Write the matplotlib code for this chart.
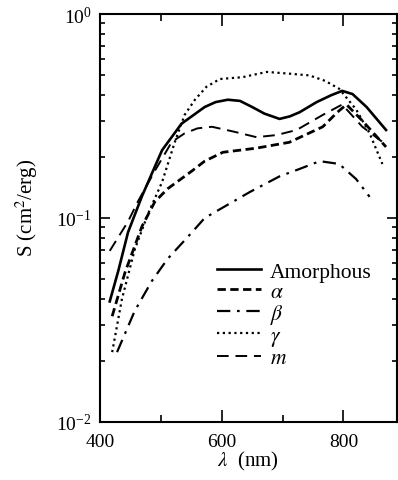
import matplotlib
matplotlib.use("Agg")
import matplotlib.pyplot as plt
from matplotlib.ticker import FixedLocator, LogLocator, NullFormatter

plt.rcParams['font.family'] = ['Liberation Serif', 'DejaVu Serif']
plt.rcParams['mathtext.fontset'] = 'stix'

# ---- data ----
lam_amor = [416, 430, 446, 469, 502, 534, 572, 590, 610, 630, 650, 670, 695, 712, 728, 756, 780, 798, 815, 838, 870]
S_amor = [0.039, 0.055, 0.085, 0.128, 0.215, 0.29, 0.35, 0.37, 0.38, 0.375, 0.35, 0.325, 0.306, 0.315, 0.33, 0.37, 0.40, 0.42, 0.405, 0.35, 0.27]

lam_alpha = [420, 441, 469, 490, 511, 551, 572, 602, 657, 711, 766, 790, 805, 831, 870]
S_alpha = [0.033, 0.054, 0.091, 0.12, 0.139, 0.17, 0.19, 0.21, 0.22, 0.235, 0.28, 0.33, 0.36, 0.30, 0.223]

lam_beta = [428, 457, 485, 511, 551, 572, 646, 695, 728, 761, 793, 821, 843]
S_beta = [0.022, 0.035, 0.049, 0.063, 0.085, 0.10, 0.134, 0.16, 0.174, 0.19, 0.184, 0.155, 0.127]

lam_gamma = [420, 436, 457, 479, 502, 523, 539, 556, 575, 597, 634, 674, 711, 744, 770, 793, 821, 843, 864]
S_gamma = [0.022, 0.040, 0.070, 0.105, 0.15, 0.236, 0.32, 0.38, 0.44, 0.48, 0.49, 0.52, 0.51, 0.50, 0.47, 0.43, 0.34, 0.26, 0.184]

lam_m = [416, 446, 462, 490, 518, 539, 560, 584, 620, 657, 690, 723, 766, 798, 831, 864]
S_m = [0.069, 0.096, 0.12, 0.17, 0.236, 0.26, 0.275, 0.28, 0.265, 0.249, 0.255, 0.27, 0.32, 0.36, 0.28, 0.236]

labels = ['Amorphous', r'$\alpha$', r'$\beta$', r'$\gamma$', r'$m$']
x_major = [400, 600, 800]
x_minor = [500, 700]

fig = plt.figure(figsize=(3.98, 4.81), dpi=100)
ax = fig.add_axes([100/398, 58/481, 297/398, 408/481])

ax.plot(lam_amor, S_amor, color='black', lw=1.9, ls='-', label=labels[0])
ax.plot(lam_alpha, S_alpha, color='black', lw=2.0, ls=(0, (3.0, 1.6)), label=labels[1])
ax.plot(lam_beta, S_beta, color='black', lw=1.6, ls=(0, (6, 3, 1.2, 3)), label=labels[2])
ax.plot(lam_gamma, S_gamma, color='black', lw=1.6, ls=(0, (1, 1.6)), label=labels[3])
ax.plot(lam_m, S_m, color='black', lw=1.4, ls=(0, (6, 3.5)), label=labels[4])

ax.set_yscale('log')
ax.set_xlim(400, 888)
ax.set_ylim(0.01, 1)

ax.xaxis.set_major_locator(FixedLocator(x_major))
ax.xaxis.set_minor_locator(FixedLocator(x_minor))
ax.yaxis.set_major_locator(LogLocator(base=10, numticks=10))
ax.yaxis.set_minor_locator(LogLocator(base=10, subs=range(2, 10), numticks=10))
ax.yaxis.set_minor_formatter(NullFormatter())

ax.tick_params(axis='both', which='both', direction='in', top=True, right=True,
               labelsize=14, width=1.2)
ax.tick_params(axis='x', which='major', length=8.5, pad=8)
ax.tick_params(axis='x', which='minor', length=5)
ax.tick_params(axis='y', which='major', length=7, pad=6)
ax.tick_params(axis='y', which='minor', length=3.8)

for sp in ax.spines.values():
    sp.set_linewidth(1.5)

ax.set_xlabel(r'$\lambda$  (nm)', fontsize=15, va='center')
ax.xaxis.set_label_coords((248-100)/297, -(461-423)/408)
ax.set_ylabel(r'S (cm$^2$/erg)', fontsize=15, va='center')
ax.yaxis.set_label_coords((27-100)/297, (423-208)/408)

fig.legend(loc='upper left', bbox_to_anchor=(206/398, 1 - 252/481), frameon=False,
           fontsize=15.5, borderpad=0, handlelength=2.05, handletextpad=0.4,
           labelspacing=0.0)

fig.savefig('out.png', dpi=100)
